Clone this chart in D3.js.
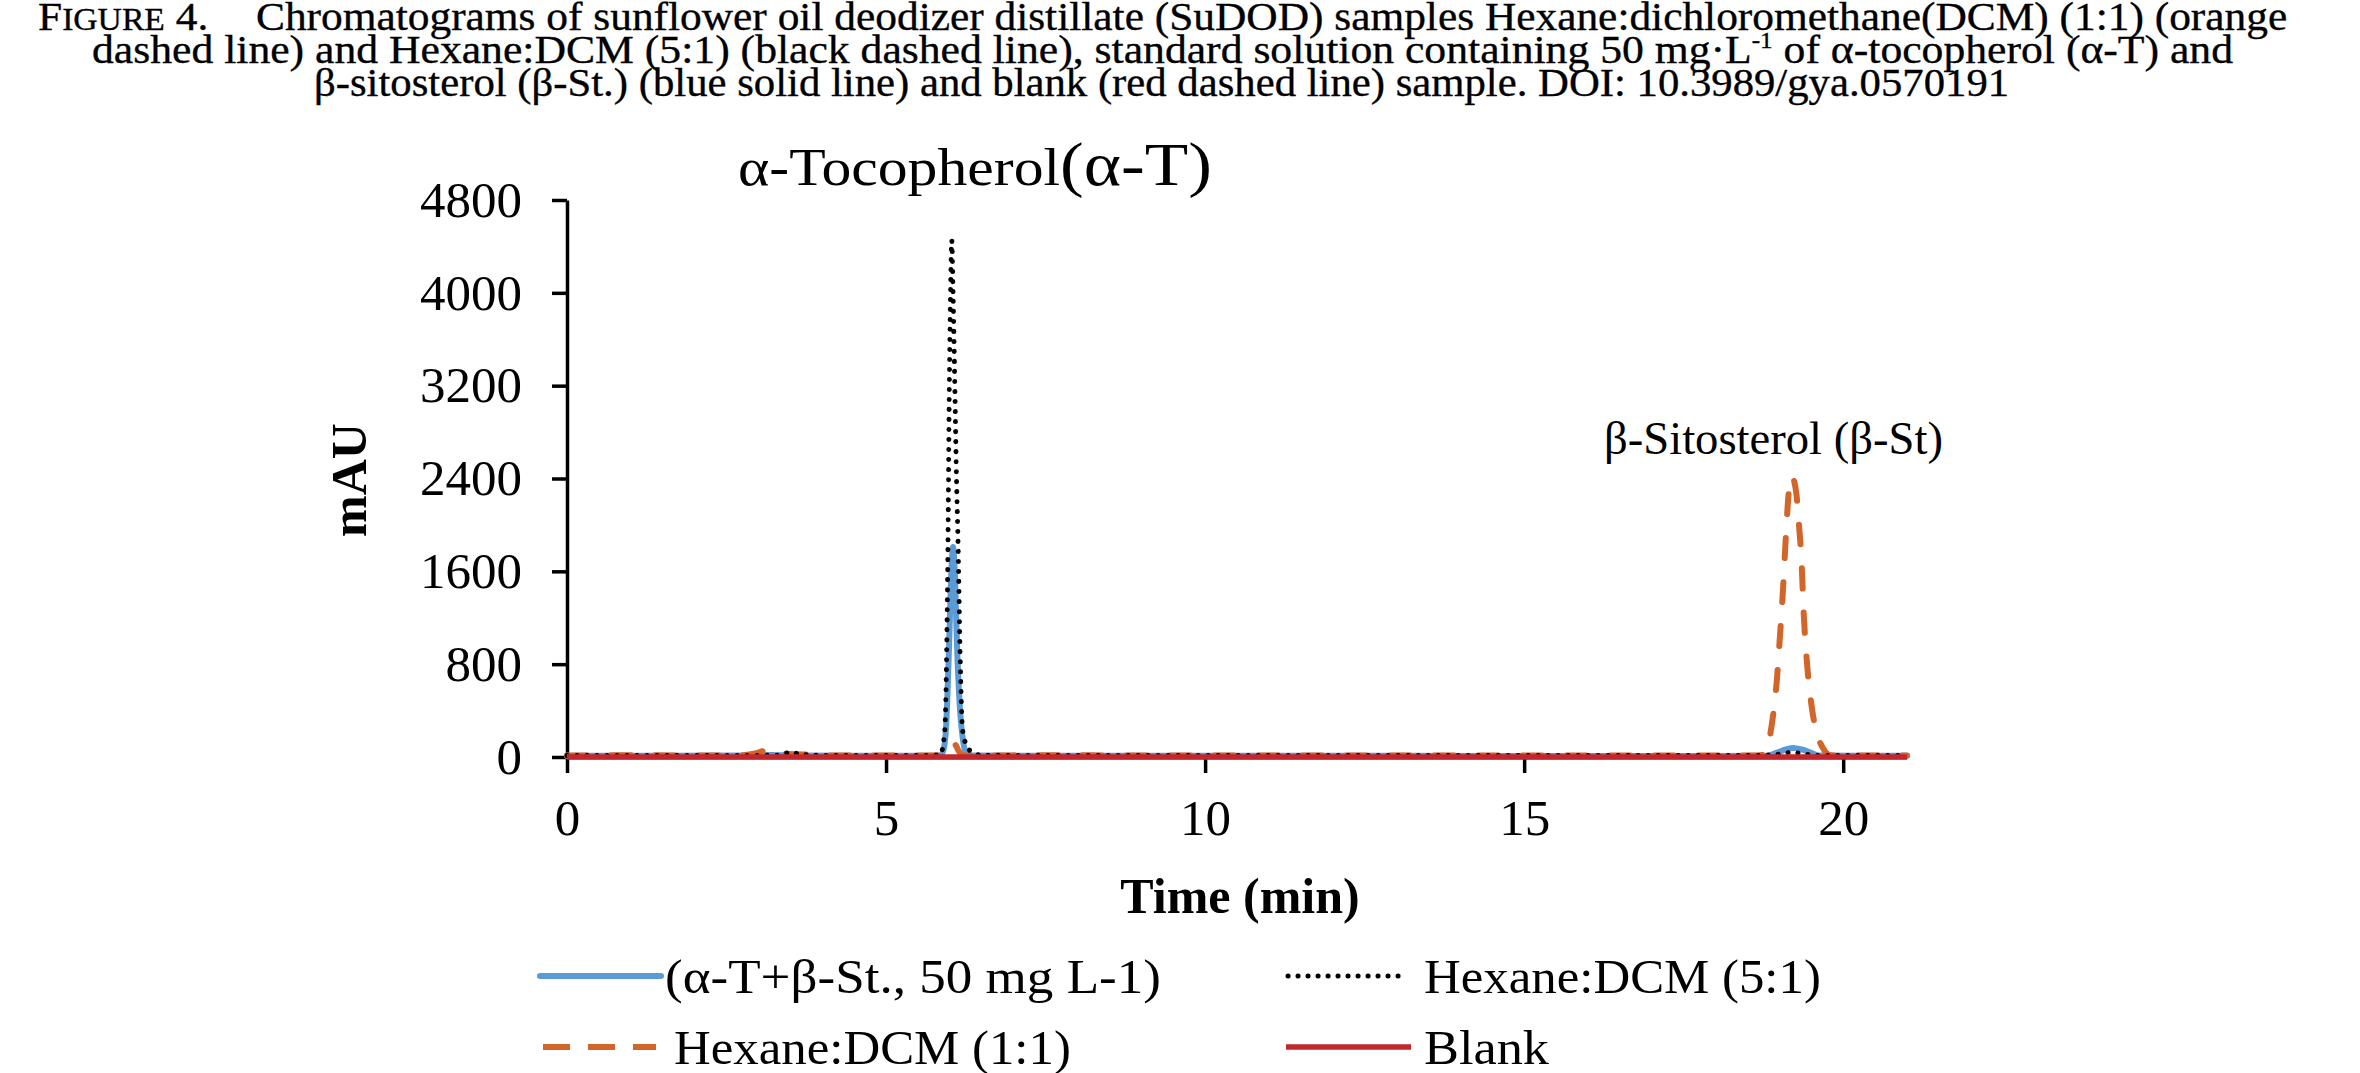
<!DOCTYPE html>
<html><head><meta charset="utf-8">
<script src="https://cdn.jsdelivr.net/npm/d3@7/dist/d3.min.js"></script>
<style>
body{margin:0;background:#fff}
svg{display:block}
text{font-family:"Liberation Serif","Times New Roman",serif;fill:#000}
</style>
</head><body>
<svg id="chart" width="2360" height="1073"></svg>
<script>
// ---------- data ----------
const xTicks = [0, 5, 10, 15, 20];
const yTicks = [0, 800, 1600, 2400, 3200, 4000, 4800];

// [time (min), mAU]
const standardSeries = [[0,10],[1.5,10],[2.8,12],[3.2,18],[3.6,14],[4.5,10],[5.5,10],[5.85,12],[5.9,60],[5.94,250],[5.99,1000],[6.02,1550],[6.05,1810],[6.08,1550],[6.11,1000],[6.16,400],[6.2,170],[6.26,30],[6.35,12],[7.5,10],[9,10],[11,10],[13,10],[15,9],[17,9],[18.8,10],[18.95,35],[19.1,65],[19.22,78],[19.35,65],[19.5,35],[19.62,12],[20.2,10],[21,10]];
const hexDcm51Series = [[0,12],[2,12],[3.3,15],[3.45,35],[3.54,45],[3.62,25],[4.2,12],[5.5,12],[5.85,20],[5.92,220],[5.95,900],[5.97,1800],[5.99,3100],[6.01,3950],[6.03,4450],[6.05,4000],[6.08,3130],[6.1,2500],[6.13,1800],[6.16,900],[6.2,230],[6.28,80],[6.36,40],[6.5,15],[8,12],[10,12],[12,12],[14,12],[16,12],[18.6,12],[19.0,25],[19.2,40],[19.4,25],[19.7,12],[21,12]];
const hexDcm11Series = [[0,12],[1,15],[2,12],[2.7,15],[2.95,30],[3.1,55],[3.2,63],[3.3,50],[3.45,25],[3.7,22],[4.0,14],[5,12],[5.8,12],[5.9,35],[5.97,80],[6.03,120],[6.08,110],[6.14,50],[6.22,12],[7,14],[8,15],[9,12],[10,14],[12,13],[14,14],[16,12],[18,12],[18.6,12],[18.75,20],[18.88,276],[18.96,660],[19.01,1050],[19.06,1474],[19.1,1888],[19.15,2300],[19.19,2420],[19.23,2380],[19.27,2250],[19.3,2050],[19.35,1650],[19.38,1250],[19.43,830],[19.51,420],[19.6,180],[19.68,80],[19.8,15],[20,12],[21,12]];
const blankSeries = [[0,0],[3,0],[6,0],[9,0],[12,0],[15,0],[18,0],[21,0]];

const legendLabels = ["(α-T+β-St., 50 mg L-1)", "Hexane:DCM (5:1)", "Hexane:DCM (1:1)", "Blank"];
const peakLabelA = ["α-Tocopherol", "(α-T)"];
const peakLabelB = "β-Sitosterol (β-St)";
const xTitle = "Time (min)";
const yTitle = "mAU";

// ---------- setup ----------
const svg = d3.select("#chart");
const x = d3.scaleLinear().domain([0, 21]).range([567, 1907]);
const y = d3.scaleLinear().domain([0, 4800]).range([757, 200]);

// stretch a text horizontally so that its ink spans [left,right], keeping baseline
function fitText(t, left, right, base){
  t.attr("x",0).attr("y",0).attr("text-anchor","start");
  const bb = t.node().getBBox();
  const s = (right-left)/bb.width;
  t.attr("transform",`translate(${left - bb.x*s},${base}) scale(${s},1)`);
}

// ---------- title ----------
const title = svg.append("g").attr("class","title");
function titleLine(parts, left, right, base){
  const t = title.append("text").attr("font-size",40).attr("stroke","#000").attr("stroke-width",0.35);
  parts.forEach(p=>{
    const s = t.append("tspan").text(p.t);
    if(p.fs) s.attr("font-size",p.fs);
    if(p.dy) s.attr("dy",p.dy);
    if(p.dx) s.attr("dx",p.dx);
  });
  fitText(t, left, right, base);
}
titleLine([{t:"F"},{t:"IGURE",fs:31},{t:" 4."},{t:"Chromatograms of sunflower oil deodizer distillate (SuDOD) samples Hexane:dichloromethane(DCM) (1:1) (orange",dx:44}], 38, 2288, 30);
titleLine([{t:"dashed line) and Hexane:DCM (5:1) (black dashed line), standard solution containing 50 mg·L"},{t:"-1",fs:23,dy:-15},{t:" of α-tocopherol (α-T) and",dy:15}], 92, 2234, 63);
titleLine([{t:"β-sitosterol (β-St.) (blue solid line) and blank (red dashed line) sample. DOI: 10.3989/gya.0570191"}], 314, 2010, 96);

// ---------- axes ----------
const xAxis = svg.append("g").attr("transform","translate(0,757)")
  .call(d3.axisBottom(x).tickValues(xTicks).tickSize(16).tickSizeOuter(0).tickPadding(26).tickFormat(d3.format("d")));
const yAxis = svg.append("g").attr("transform","translate(567,0)")
  .call(d3.axisLeft(y).tickValues(yTicks).tickSize(15).tickSizeOuter(0).tickPadding(30).tickFormat(d3.format("d")));
[xAxis,yAxis].forEach(a=>{
  a.selectAll("path.domain").attr("stroke","#000").attr("stroke-width",3.5);
  a.selectAll(".tick line").attr("stroke","#000").attr("stroke-width",3.5);
  a.selectAll(".tick text").attr("font-size",51).attr("font-family","'Liberation Serif',serif").attr("fill","#000");
});

svg.append("text").attr("font-size",50).attr("font-weight","bold").attr("text-anchor","middle")
  .attr("x",1240).attr("y",913).text(xTitle);
svg.append("text").attr("font-size",50).attr("font-weight","bold").attr("text-anchor","middle")
  .attr("transform","translate(366,480) rotate(-90)").text(yTitle);

// ---------- series ----------
const line = d3.line().x(d=>x(d[0])).y(d=>y(d[1])).curve(d3.curveMonotoneX);
const styles = {
  std:   {stroke:"#5B9BD5", width:6, dash:null, cap:"round"},
  h51:   {stroke:"#000000", width:5, dash:"0.1 9.9", cap:"round"},
  h11:   {stroke:"#D2652A", width:6, dash:"20 24", cap:"round"},
  blank: {stroke:"#C1272D", width:5.5, dash:null, cap:"butt"}
};
function drawSeries(data, st){
  const p = svg.append("path").datum(data).attr("d",line).attr("fill","none")
    .attr("stroke",st.stroke).attr("stroke-width",st.width).attr("stroke-linecap",st.cap).attr("stroke-linejoin","round");
  if(st.dash) p.attr("stroke-dasharray",st.dash);
}
drawSeries(standardSeries, styles.std);
drawSeries(hexDcm11Series, styles.h11);
drawSeries(hexDcm51Series, styles.h51);
drawSeries(blankSeries, styles.blank);

// ---------- peak labels ----------
const pa = svg.append("text");
pa.append("tspan").attr("font-size",52).text(peakLabelA[0]);
pa.append("tspan").attr("font-size",62).text(peakLabelA[1]);
fitText(pa, 738, 1212, 185);
const pb = svg.append("text").attr("font-size",47).text(peakLabelB);
fitText(pb, 1604, 1943, 454);

// ---------- legend ----------
const legendItems = [
  {label:legendLabels[0], st:styles.std,   x1:540,  x2:661,  tx:[665,1161],  ly:976},
  {label:legendLabels[1], st:styles.h51,   x1:1288, x2:1402, tx:[1424,1821], ly:976},
  {label:legendLabels[2], st:styles.h11,   x1:543,  x2:656,  tx:[674,1071],  ly:1047},
  {label:legendLabels[3], st:styles.blank, x1:1286, x2:1411, tx:[1424,1549], ly:1047}
];
const lg = svg.append("g");
legendItems.forEach(it=>{
  const l = lg.append("line").attr("x1",it.x1).attr("x2",it.x2).attr("y1",it.ly).attr("y2",it.ly)
    .attr("stroke",it.st.stroke).attr("stroke-width",it.st.width).attr("stroke-linecap",it.st.cap);
  if(it.st.dash) l.attr("stroke-dasharray", it.st===styles.h11 ? "27 18" : it.st.dash).attr("stroke-linecap", it.st===styles.h11 ? "butt" : it.st.cap);
  const t = lg.append("text").attr("font-size",48).text(it.label);
  fitText(t, it.tx[0], it.tx[1], it.ly+17);
});
</script>
</body></html>
